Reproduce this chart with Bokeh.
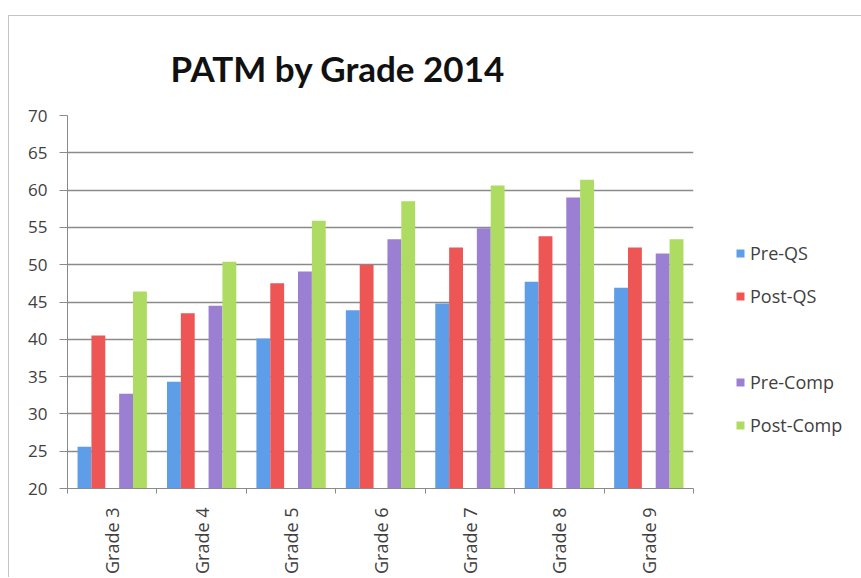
from math import pi
from bokeh.plotting import figure
from bokeh.models import ColumnDataSource, FixedTicker, Legend, LegendItem, Title, Range1d
from bokeh.transform import dodge
from bokeh.embed import file_html
from bokeh.resources import INLINE

# ---- data ----
grades = ["Grade 3", "Grade 4", "Grade 5", "Grade 6", "Grade 7", "Grade 8", "Grade 9"]
pre_qs = [25.6, 34.3, 40.1, 43.9, 44.8, 47.7, 46.9]
post_qs = [40.5, 43.5, 47.5, 50.0, 52.3, 53.8, 52.3]
pre_comp = [32.7, 44.5, 49.1, 53.4, 54.9, 59.0, 51.5]
post_comp = [46.4, 50.4, 55.9, 58.5, 60.6, 61.4, 53.4]
series_names = ["Pre-QS", "Post-QS", " ", "Pre-Comp", "Post-Comp"]
y_ticks = [20, 25, 30, 35, 40, 45, 50, 55, 60, 65, 70]
title_text = "PATM by Grade 2014"

colors = ["#5E9DE8", "#EE5656", None, "#9A7FD2", "#AEDB62"]
TEXT = "#404040"
FONT = "Open Sans"

centers = [i + 0.5 for i in range(len(grades))]
src = ColumnDataSource(dict(x=centers, grade=grades, pre_qs=pre_qs, post_qs=post_qs,
                            pre_comp=pre_comp, post_comp=post_comp))
empty = ColumnDataSource(dict(x=[], y=[]))

p = figure(output_backend="svg", toolbar_location=None,
           frame_width=626, frame_height=373,
           min_border_left=58, min_border_top=99, min_border_right=160, min_border_bottom=88,
           x_range=Range1d(0, len(grades)), y_range=Range1d(y_ticks[0], y_ticks[-1]),
           background_fill_color="white", border_fill_color="white")
p.styles = {"border-top": "1px solid #c4c4c4", "border-left": "1px solid #c4c4c4",
            "margin-top": "15px", "margin-left": "8px"}
p.outline_line_color = None

W = 0.155
fields = ["pre_qs", "post_qs", None, "pre_comp", "post_comp"]
offsets = [-2 * W, -W, 0, W, 2 * W]
renderers = []
for f, off, c in zip(fields, offsets, colors):
    if f is None:
        r = p.scatter(x="x", y="y", source=empty, alpha=0)
    else:
        r = p.vbar(x=dodge("x", off, range=p.x_range), top=f, bottom=y_ticks[0], width=W,
                   source=src, fill_color=c, line_color=None)
    renderers.append(r)

legend = Legend(items=[LegendItem(label=n, renderers=[r]) for n, r in zip(series_names, renderers)],
                location=(42, 51), orientation="vertical",
                glyph_width=10, glyph_height=10, label_height=24, spacing=19,
                padding=0, margin=0, label_standoff=5,
                label_text_font=FONT, label_text_font_size="18px", label_text_color=TEXT,
                background_fill_alpha=0, border_line_color=None)
p.add_layout(legend, "right")

# title
p.title = Title(text=title_text, align="left", offset=103, standoff=54,
                text_font="Lato", text_font_size="35px", text_font_style="bold", text_color="#111111")

# grid
p.xgrid.grid_line_color = None
p.ygrid.grid_line_color = "#8a8a8a"
p.ygrid.grid_line_width = 1.5
p.yaxis.ticker = FixedTicker(ticks=y_ticks)

# y axis
p.yaxis.axis_line_color = "#8a8a8a"
p.yaxis.major_tick_line_color = "#8a8a8a"
p.yaxis.major_tick_out = 8
p.yaxis.major_tick_in = 0
p.yaxis.minor_tick_line_color = None
p.yaxis.major_label_standoff = 12
p.yaxis.major_label_text_font = FONT
p.yaxis.major_label_text_font_size = "17px"
p.yaxis.major_label_text_color = TEXT

# x axis
p.xaxis.ticker = FixedTicker(ticks=centers, minor_ticks=list(range(len(grades) + 1)))
p.xaxis.major_label_overrides = {c: g for c, g in zip(centers, grades)}
p.xaxis.major_label_orientation = pi / 2
p.xaxis.axis_line_color = "#8a8a8a"
p.xaxis.major_tick_line_color = None
p.xaxis.minor_tick_line_color = "#8a8a8a"
p.xaxis.minor_tick_out = 5
p.xaxis.minor_tick_in = 0
p.xaxis.major_label_standoff = 13
p.xaxis.major_label_text_font = FONT
p.xaxis.major_label_text_font_size = "18px"
p.xaxis.major_label_text_color = TEXT

open("out.html", "w").write(file_html(p, INLINE))
